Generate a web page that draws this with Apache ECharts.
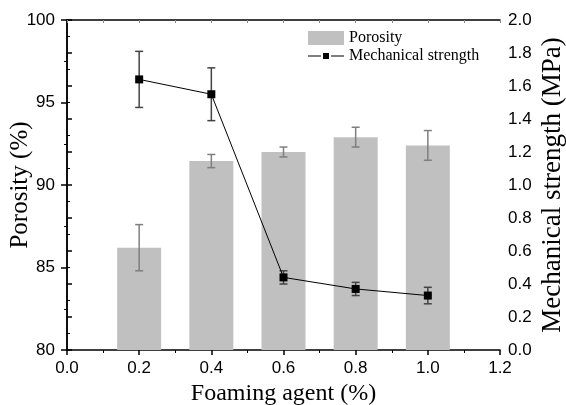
<!DOCTYPE html>
<html>
<head>
<meta charset="utf-8">
<script src="https://cdn.jsdelivr.net/npm/echarts@6/dist/echarts.min.js"></script>
<style>
  html, body { margin: 0; padding: 0; background: #fff; }
  #chart { width: 566px; height: 405px; }
</style>
</head>
<body>
<div id="chart"></div>
<script>
// values
const agent = [0.2, 0.4, 0.6, 0.8, 1.0];
const porosity = [86.2, 91.45, 92.0, 92.9, 92.4];
const porosityErr = [1.4, 0.4, 0.3, 0.6, 0.9];
const strength = [1.64, 1.55, 0.44, 0.37, 0.33];
const strengthErr = [0.17, 0.16, 0.04, 0.04, 0.05];

const serif = '"Liberation Serif", "Times New Roman", serif';
const sans = '"Liberation Sans", Arial, sans-serif';

const chart = echarts.init(document.getElementById('chart'));

// error bar drawer: data item = [x, low, high]
function errorBar(color) {
  return function (params, api) {
    const x = api.value(0);
    const lo = api.coord([x, api.value(1)]);
    const hi = api.coord([x, api.value(2)]);
    const cap = 4;
    const style = { stroke: color, lineWidth: 1.5 };
    return {
      type: 'group',
      children: [
        { type: 'line', shape: { x1: hi[0], y1: hi[1], x2: lo[0], y2: lo[1] }, style: style },
        { type: 'line', shape: { x1: hi[0] - cap, y1: hi[1], x2: hi[0] + cap, y2: hi[1] }, style: style },
        { type: 'line', shape: { x1: lo[0] - cap, y1: lo[1], x2: lo[0] + cap, y2: lo[1] }, style: style }
      ]
    };
  };
}

// legend icon: —■—
const lineIcon = 'path://M0,2.5L13,2.5L13,3.5L0,3.5Z M15,0L21,0L21,6L15,6Z M23,2.5L36,2.5L36,3.5L23,3.5Z';

const axisLine = { lineStyle: { color: '#000', width: 1.5 } };

const option = {
  animation: false,
  grid: { left: 67, right: 66, top: 20, bottom: 55, outerBoundsMode: 'none', containLabel: false },
  legend: {
    left: 303,
    top: 25,
    orient: 'vertical',
    itemWidth: 36,
    itemHeight: 14,
    itemGap: 2,
    symbolKeepAspect: true,
    textStyle: { fontFamily: serif, fontSize: 16, color: '#000' },
    data: [
      { name: 'Porosity', icon: 'rect' },
      { name: 'Mechanical strength', icon: lineIcon }
    ]
  },
  xAxis: [
    {
      type: 'value',
      min: 0,
      max: 1.2,
      interval: 0.2,
      name: 'Foaming agent (%)',
      nameLocation: 'middle',
      nameGap: 32,
      nameMoveOverlap: false,
      nameTextStyle: { fontFamily: serif, fontSize: 24, color: '#000' },
      axisLine: axisLine,
      axisTick: { inside: false, length: 5, lineStyle: { color: '#000', width: 1.5 } },
      minorTick: { show: true, splitNumber: 2, length: 3, lineStyle: { color: '#000' } },
      axisLabel: {
        margin: 10,
        fontFamily: sans,
        fontSize: 17,
        color: '#000',
        formatter: v => v.toFixed(1)
      },
      splitLine: { show: false }
    },
    {
      type: 'value',
      position: 'top',
      min: 0,
      max: 1.2,
      interval: 0.2,
      axisLine: axisLine,
      axisTick: { inside: true, length: 3, lineStyle: { color: '#888' } },
      minorTick: { show: true, splitNumber: 2, length: 3, lineStyle: { color: '#888' } },
      axisLabel: { show: false },
      splitLine: { show: false }
    }
  ],
  yAxis: [
    {
      type: 'value',
      min: 80,
      max: 100,
      interval: 5,
      name: 'Porosity (%)',
      nameLocation: 'middle',
      nameGap: 34,
      nameMoveOverlap: false,
      nameTextStyle: { fontFamily: serif, fontSize: 25, color: '#000' },
      axisLine: { show: true, lineStyle: { color: '#000', width: 1.5 } },
      axisTick: { show: true, inside: false, length: 6, lineStyle: { color: '#000', width: 1.5 } },
      minorTick: { show: true, splitNumber: 2, length: 3, lineStyle: { color: '#000' } },
      axisLabel: { margin: 12, fontFamily: sans, fontSize: 17, color: '#000' },
      splitLine: { show: false }
    },
    {
      type: 'value',
      min: 0,
      max: 2.0,
      interval: 0.2,
      position: 'right',
      name: 'Mechanical strength (MPa)',
      nameLocation: 'middle',
      nameGap: 39,
      nameRotate: 90,
      nameMoveOverlap: false,
      nameTextStyle: { fontFamily: serif, fontSize: 27, color: '#000' },
      axisLine: { show: true, lineStyle: { color: '#000', width: 1.5 } },
      axisTick: { show: true, inside: false, length: 5, lineStyle: { color: '#000', width: 1.5 } },
      minorTick: { show: true, splitNumber: 2, length: 3, lineStyle: { color: '#000' } },
      axisLabel: {
        margin: 8,
        fontFamily: sans,
        fontSize: 17,
        color: '#000',
        formatter: v => v.toFixed(1)
      },
      splitLine: { show: false }
    }
  ],
  series: [
    {
      name: 'Porosity',
      type: 'bar',
      xAxisIndex: 0,
      yAxisIndex: 0,
      barWidth: 44,
      itemStyle: { color: '#c0c0c0' },
      data: agent.map((x, i) => [x, porosity[i]])
    },
    {
      name: 'porosityErr',
      type: 'custom',
      xAxisIndex: 0,
      yAxisIndex: 0,
      renderItem: errorBar('#7f7f7f'),
      encode: { x: 0, y: [1, 2] },
      data: agent.map((x, i) => [x, porosity[i] - porosityErr[i], porosity[i] + porosityErr[i]]),
      z: 3
    },
    {
      name: 'Mechanical strength',
      type: 'line',
      xAxisIndex: 0,
      yAxisIndex: 1,
      symbol: 'rect',
      symbolSize: 8,
      lineStyle: { color: '#000', width: 1 },
      itemStyle: { color: '#000' },
      data: agent.map((x, i) => [x, strength[i]]),
      z: 5
    },
    {
      name: 'strengthErr',
      type: 'custom',
      xAxisIndex: 0,
      yAxisIndex: 1,
      renderItem: errorBar('#444'),
      encode: { x: 0, y: [1, 2] },
      data: agent.map((x, i) => [x, strength[i] - strengthErr[i], strength[i] + strengthErr[i]]),
      z: 4
    }
  ]
};

chart.setOption(option);
</script>
</body>
</html>
